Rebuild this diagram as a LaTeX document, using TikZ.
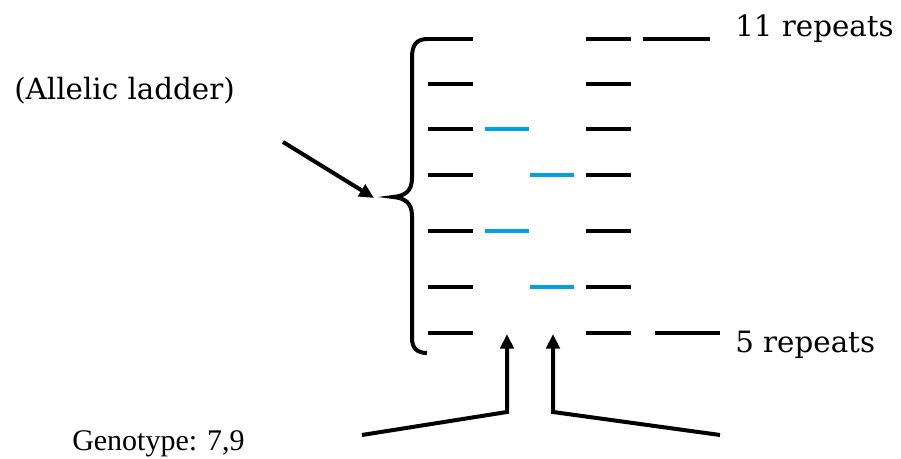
\documentclass[tikz,border=0pt]{standalone}
\usepackage{fontspec}
\setmainfont{DejaVu Serif}
\newfontfamily\timesfont{Liberation Serif}
\usetikzlibrary{arrows.meta}
\definecolor{bandblue}{RGB}{0,162,219}
\tikzset{
  band/.style={line width=3.6pt},
  blueband/.style={line width=3.6pt, draw=bandblue},
  pointer/.style={line width=3pt, -{Triangle[length=11pt,width=10pt]}},
  lbl/.style={inner sep=0pt, anchor=base west, font=\fontsize{22pt}{26pt}\selectfont}
}
\begin{document}
\begin{tikzpicture}[x=0.75pt,y=-0.75pt]
\useasboundingbox (0,0) rectangle (901,459);
% ladder bands
\foreach \yy in {39,84,129,175,231,287,333} {
  \draw[band] (428,\yy) -- (473,\yy);
  \draw[band] (586,\yy) -- (631,\yy);
}
\draw[band] (643,39) -- (710,39);
\draw[band] (655,333) -- (720,333);
% sample bands
\draw[blueband] (485,129) -- (529,129);
\draw[blueband] (485,231) -- (529,231);
\draw[blueband] (530,175) -- (574,175);
\draw[blueband] (530,287) -- (574,287);
% brace
\draw[line width=3pt] (428,39) .. controls (416,39) and (412,45) .. (412,58) -- (412,178)
  .. controls (412,192) and (404,196) .. (393,197)
  .. controls (404,198) and (412,202) .. (412,216) -- (412,338)
  .. controls (412,348) and (417,353) .. (427,353);
% labels
\node[lbl] (ladder) at (14,100) {(Allelic ladder)};
\node[lbl] (eleven) at (735,37) {11 repeats};
\node[lbl] (five) at (735,353) {5 repeats};
\node[lbl, font=\timesfont\fontsize{22.5pt}{26pt}\selectfont] (geno) at (72,451) {Genotype: 7,9};
% arrows
\coordinate (a1s) at (283,142);
\coordinate (a1e) at (374,198);
\draw[pointer] (a1s) -- (a1e);
\coordinate (l0) at (362,435);
\coordinate (l1) at (507,412);
\coordinate (l2) at (507,334);
\draw[pointer] (l0) -- (l1) -- (l2);
\coordinate (r0) at (720,435);
\coordinate (r1) at (553,412);
\coordinate (r2) at (553,334);
\draw[pointer] (r0) -- (r1) -- (r2);
\end{tikzpicture}
\end{document}
